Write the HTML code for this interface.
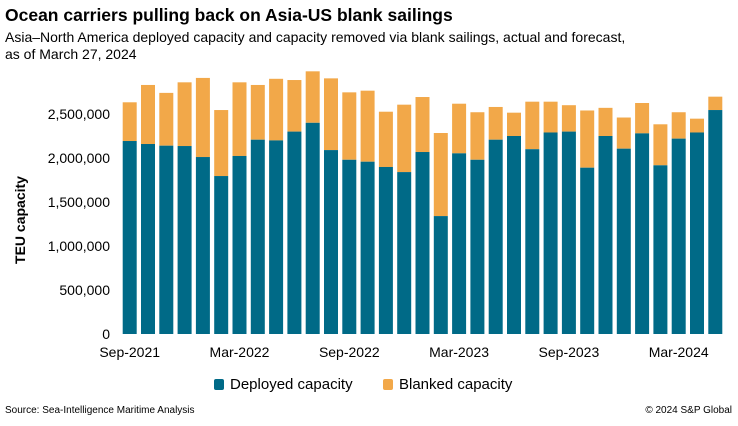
<!DOCTYPE html>
<html><head><meta charset="utf-8"><style>
body{margin:0;background:#fff;font-family:"Liberation Sans",sans-serif;}
#wrap{position:relative;width:738px;height:426px;overflow:hidden;}
.t{position:absolute;white-space:nowrap;color:#000;}
</style></head><body>
<div id="wrap">
<div class="t" style="left:5px;top:5px;font-size:17.5px;font-weight:bold;">Ocean carriers pulling back on Asia-US blank sailings</div>
<div class="t" style="left:5px;top:29px;font-size:14px;line-height:17px;">Asia–North America deployed capacity and capacity removed via blank sailings, actual and forecast,<br>as of March 27, 2024</div>
<svg id="chart" width="738" height="426" style="position:absolute;left:0;top:0"></svg>
<div class="t" style="left:214px;top:376px;font-size:15px;"><span style="display:inline-block;width:10px;height:11px;border-radius:2px;background:#006a87;vertical-align:-1px;margin-right:6px"></span>Deployed capacity</div>
<div class="t" style="left:383px;top:376px;font-size:15px;"><span style="display:inline-block;width:10px;height:11px;border-radius:2px;background:#f2a849;vertical-align:-1px;margin-right:6px"></span>Blanked capacity</div>
<div class="t" style="left:5px;top:405px;font-size:10px;">Source: Sea-Intelligence Maritime Analysis</div>
<div class="t" style="right:6px;top:405px;font-size:10px;">© 2024 S&amp;P Global</div>
</div>
<script>
const deployed=[2.193,2.159,2.14,2.136,2.011,1.795,2.023,2.208,2.20,2.30,2.40,2.09,1.98,1.958,1.898,1.84,2.068,1.34,2.053,1.98,2.208,2.25,2.10,2.29,2.30,1.89,2.25,2.106,2.28,1.917,2.22,2.29,2.545];
const total=[2.633,2.83,2.74,2.86,2.91,2.545,2.86,2.83,2.90,2.886,2.985,2.905,2.746,2.765,2.526,2.606,2.693,2.284,2.617,2.52,2.58,2.515,2.64,2.64,2.60,2.54,2.57,2.46,2.625,2.383,2.52,2.447,2.697];
const yTicks=[0,500000,1000000,1500000,2000000,2500000];
const xLabels=["Sep-2021","Mar-2022","Sep-2022","Mar-2023","Sep-2023","Mar-2024"];
const xLabelIdx=[0,6,12,18,24,30];
const svg=document.getElementById('chart');
const NS='http://www.w3.org/2000/svg';
const base=334, pxPerM=88, x0=122.7, pitch=18.3, bw=14;
function y(v){return base-v/1e6*pxPerM;}
function xb(i){return x0+i*pitch;}
function mk(tag,attrs){const e=document.createElementNS(NS,tag);for(const k in attrs)e.setAttribute(k,attrs[k]);svg.appendChild(e);return e;}
yTicks.forEach(v=>{const t=mk('text',{x:110,y:y(v)+5,'text-anchor':'end','font-size':14,fill:'#000','font-family':'Liberation Sans'});


t.textContent=v.toLocaleString('en-US');});
const yt=mk('text',{x:0,y:0,transform:'translate(25,220) rotate(-90)','text-anchor':'middle','font-size':14,'font-weight':'bold','font-family':'Liberation Sans'});


yt.textContent='TEU capacity';
deployed.forEach((d,i)=>{
const r1=mk('rect',{x:xb(i),y:y(total[i]*1e6),width:bw,height:y(d*1e6)-y(total[i]*1e6),fill:'#f2a849'});


const r2=mk('rect',{x:xb(i),y:y(d*1e6),width:bw,height:base-y(d*1e6),fill:'#006a87'});


});
xLabels.forEach((l,k)=>{const t=mk('text',{x:xb(xLabelIdx[k])+bw/2,y:357,'text-anchor':'middle','font-size':14,'font-family':'Liberation Sans'});


t.textContent=l;});
</script>
</body></html>
